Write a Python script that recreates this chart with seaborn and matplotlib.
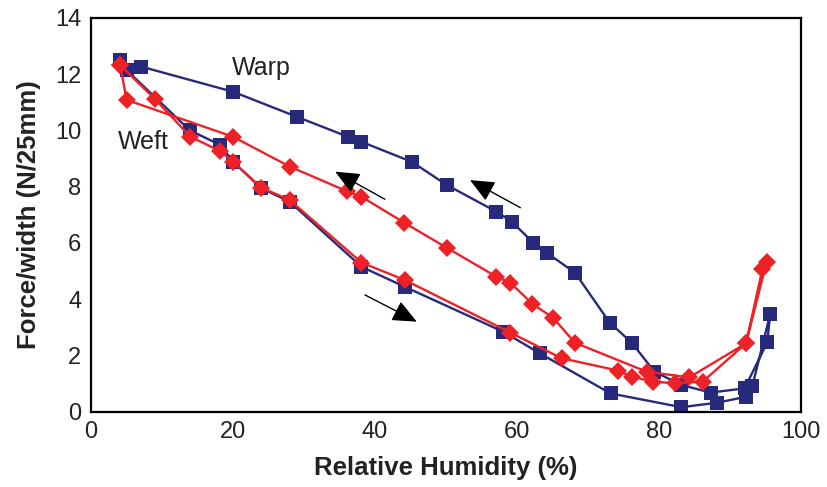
# Hysteresis of force/width vs relative humidity (warp and weft)
import numpy as np
import pandas as pd
import seaborn as sns
import matplotlib.pyplot as plt

# -----------------------------
# Data
# -----------------------------
warp_rh = [4.1, 5.0, 13.9, 18.2, 20.0, 24.0, 28.0, 38.1, 44.2, 58.1, 63.2, 73.2,
           83.2, 88.2, 92.3, 93.2, 95.7, 95.3, 92.1, 87.3, 83.2, 79.4, 76.2, 73.1,
           68.2, 64.2, 62.3, 59.3, 57.1, 50.1, 45.2, 38.1, 36.2, 29.0, 20.0, 7.1]
warp_force = [12.50, 12.14, 10.00, 9.48, 8.88, 7.94, 7.46, 5.15, 4.44, 2.84, 2.08, 0.65,
              0.16, 0.32, 0.53, 0.92, 3.47, 2.47, 0.83, 0.68, 0.95, 1.42, 2.45, 3.16,
              4.94, 5.65, 6.01, 6.75, 7.11, 8.06, 8.88, 9.59, 9.77, 10.48, 11.37, 12.26]

weft_rh = [4.1, 9.0, 14.0, 18.2, 20.0, 24.0, 28.0, 38.1, 44.2, 59.1, 66.3, 74.3,
           76.2, 79.2, 82.3, 86.2, 92.3, 94.6, 95.2, 92.3, 84.3, 78.3, 68.2, 65.1,
           62.2, 59.1, 57.1, 50.1, 44.1, 38.1, 36.0, 28.0, 20.0, 5.0, 4.1]
weft_force = [12.32, 11.11, 9.77, 9.26, 8.88, 7.96, 7.52, 5.30, 4.68, 2.81, 1.90, 1.46,
              1.24, 1.07, 1.01, 1.07, 2.43, 5.06, 5.33, 2.43, 1.22, 1.42, 2.45, 3.34,
              3.83, 4.58, 4.80, 5.83, 6.72, 7.64, 7.84, 8.71, 9.77, 11.08, 12.32]

x_ticks = [0, 20, 40, 60, 80, 100]
y_ticks = [0, 2, 4, 6, 8, 10, 12, 14]

# -----------------------------
# Style
# -----------------------------
sns.set_style("white")
plt.rcParams['font.family'] = ['Liberation Sans', 'DejaVu Sans']

fig, ax = plt.subplots(figsize=(8.28, 4.87), dpi=100)
fig.subplots_adjust(left=0.110, right=0.967, top=0.9636, bottom=0.1546)

navy = '#272a7a'
red = '#ee2127'

sns.lineplot(x=warp_rh, y=warp_force, sort=False, estimator=None, color=navy,
             linewidth=1.7, marker='s', markersize=10.5, markeredgewidth=0, ax=ax, zorder=2)
sns.lineplot(x=weft_rh, y=weft_force, sort=False, estimator=None, color=red,
             linewidth=1.7, marker='D', markersize=9.5, markeredgewidth=0, ax=ax, zorder=3)

ax.set_xlim(0, 100)
ax.set_ylim(0, 14)
ax.set_xticks(x_ticks)
ax.set_yticks(y_ticks)
ax.tick_params(direction='in', length=7, width=1.4, labelsize=17, pad=7,
               colors='black', labelcolor='#222222')
for s in ax.spines.values():
    s.set_visible(True)
    s.set_color('black')
    s.set_linewidth(1.6)

ax.set_xlabel("Relative Humidity (%)", fontsize=18.5, fontweight='bold', color='#222222', labelpad=9)
ax.set_ylabel("Force/width (N/25mm)", fontsize=18.5, fontweight='bold', color='#222222', labelpad=10)

# labels
ax.text(24.0, 12.23, "Warp", fontsize=18, ha='center', va='center', color='#222222')
ax.text(7.3, 9.58, "Weft", fontsize=18, ha='center', va='center', color='#222222')

# direction arrows
arrow_kw = dict(arrowstyle='-|>,head_length=0.75,head_width=0.33', color='black',
                lw=1.0, mutation_scale=20, shrinkA=0, shrinkB=0)
ax.annotate('', xy=(45.9, 3.20), xytext=(38.6, 4.15), arrowprops=arrow_kw)
ax.annotate('', xy=(34.4, 8.53), xytext=(41.4, 7.55), arrowprops=arrow_kw)
ax.annotate('', xy=(53.4, 8.23), xytext=(60.5, 7.25), arrowprops=arrow_kw)

ax.set_facecolor('white')
fig.savefig("out.png", dpi=100)
